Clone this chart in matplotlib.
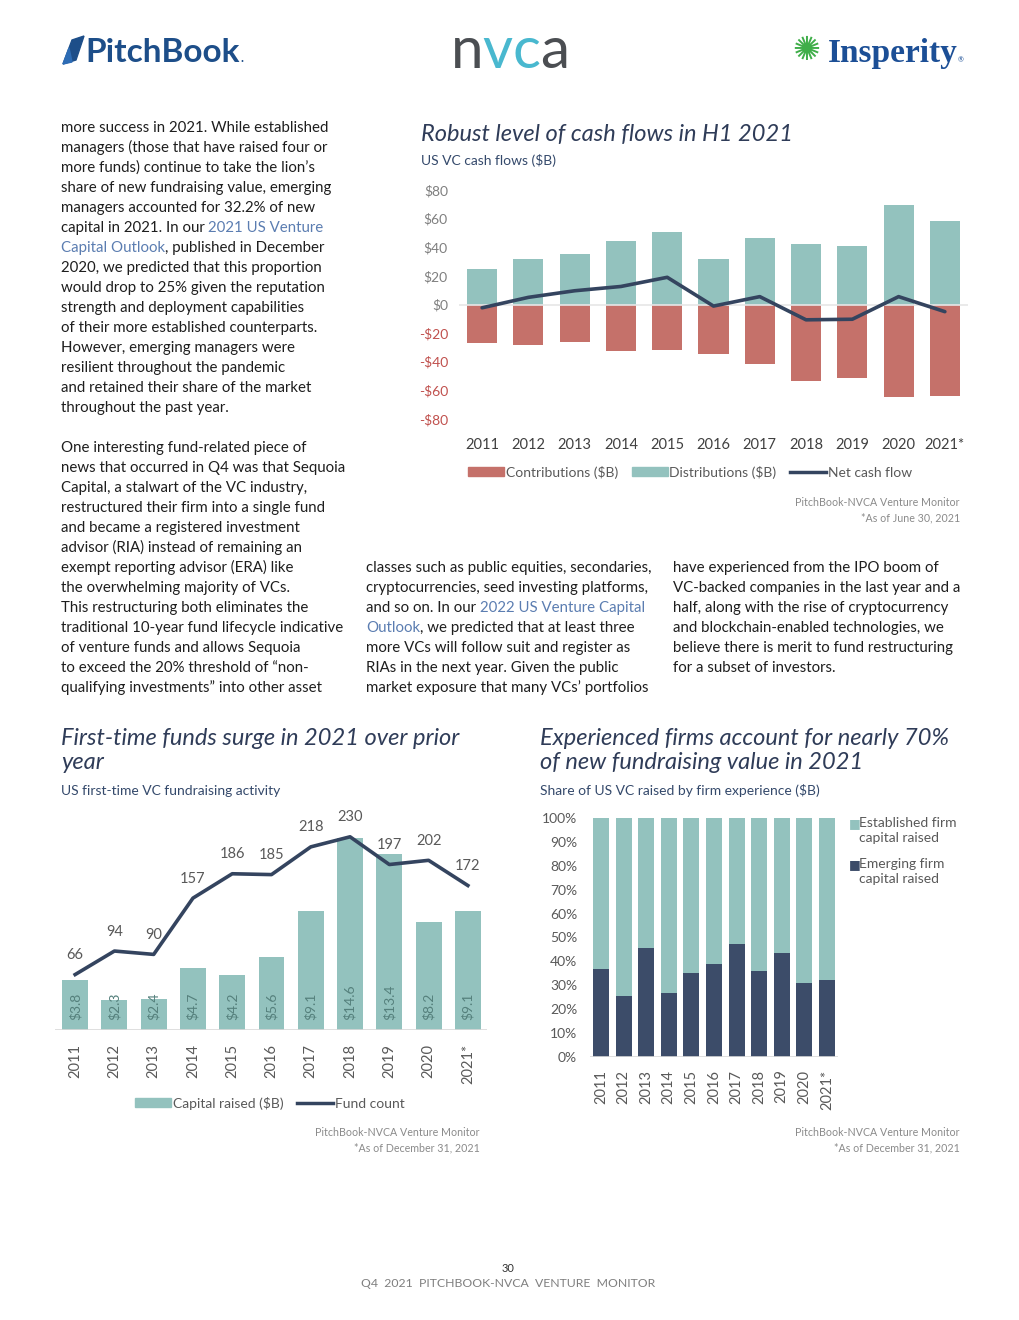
import matplotlib
matplotlib.use('Agg')
import matplotlib.pyplot as plt
from matplotlib.patches import Patch, Polygon
from matplotlib.lines import Line2D

plt.rcParams['font.family'] = ['Lato', 'DejaVu Sans']

# ---------------- data ----------------
years = ['2011', '2012', '2013', '2014', '2015', '2016', '2017', '2018', '2019', '2020', '2021*']

cf_distributions = [24.5, 32.0, 35.4, 44.3, 50.5, 32.0, 46.4, 42.3, 40.9, 69.7, 58.0]
cf_contributions = [-26.7, -28.1, -26.1, -32.2, -31.5, -34.3, -41.8, -53.5, -51.4, -64.5, -63.8]
cf_net = [-2.3, 5.0, 9.6, 12.6, 19.0, -1.1, 5.5, -10.7, -10.3, 5.5, -5.0]
cf_yticks = [-80, -60, -40, -20, 0, 20, 40, 60, 80]

ft_capital = [3.8, 2.3, 2.4, 4.7, 4.2, 5.6, 9.1, 14.6, 13.4, 8.2, 9.1]
ft_count = [66, 94, 90, 157, 186, 185, 218, 230, 197, 202, 172]

exp_emerging = [36.8, 25.5, 45.6, 26.7, 35.1, 38.9, 47.3, 35.9, 43.5, 30.9, 32.2]
exp_established = [100 - e for e in exp_emerging]
exp_yticks = [0, 10, 20, 30, 40, 50, 60, 70, 80, 90, 100]

# ---------------- style ----------------
TEAL = '#93c2be'
RED = '#c5716a'
NAVY = '#34445f'
NAVY_BAR = '#3c4c69'
TITLE_C = '#2f3c58'
SUB_C = '#34496b'
GRAY = '#595959'
LIGHT = '#d9d9d9'
BODY = '#1e1e1e'
LINK = '#5b7db1'
SRC = '#8a8a8a'
SRC_FS = 7.7
TITLE_FS = 17

W, H = 1020, 1320
def fx(x): return x / W
def fy(y): return 1 - y / H

fig = plt.figure(figsize=(10.2, 13.2), dpi=100)
bg = fig.add_axes([0, 0, 1, 1], zorder=-5)
bg.set_xlim(0, 1); bg.set_ylim(0, 1); bg.axis('off')


def chain(x, y, segments, **common):
    """Place text segments one after another on the same baseline."""
    prev = None
    for txt, col, gap, extra in segments:
        kw = dict(common)
        kw.update(extra)
        if prev is None:
            prev = bg.annotate(txt, xy=(fx(x), fy(y)), xycoords='figure fraction',
                               color=col, ha='left', va='baseline', **kw)
        else:
            prev = bg.annotate(txt, xy=(1, fy(y)), xycoords=(prev, 'figure fraction'),
                               xytext=(gap, 0), textcoords='offset points',
                               color=col, ha='left', va='baseline', **kw)
    return prev

# ---------------- logos ----------------
bg.add_patch(Polygon([(fx(63), fy(64)), (fx(72), fy(40)), (fx(84), fy(36)), (fx(76), fy(60))],
                     closed=True, color='#1d4e89', transform=fig.transFigure))
bg.add_patch(Polygon([(fx(63), fy(64)), (fx(69), fy(48)), (fx(72), fy(62))],
                     closed=True, color='#2d6cb5', transform=fig.transFigure))
chain(85, 62, [('PitchBook', '#1d4e89', 0, dict(fontsize=24, fontweight='bold')),
               ('.', '#1d4e89', 0.5, dict(fontsize=9, fontweight='bold'))])

chain(451, 68, [('n', '#4b4e52', 0, {}), ('v', '#49b8cf', -1, {}),
                ('c', '#49b8cf', 0, {}), ('a', '#4b4e52', 0, {})], fontsize=42)

fig.text(fx(806), fy(50), '✺', fontsize=24, color='#3fae49', va='center', ha='center',
         family=['DejaVu Sans'])
chain(828, 62, [('Insperity', '#1c4f96', 0, dict(fontsize=24, fontweight='bold',
                                                   family=['Liberation Serif'])),
                ('®', '#1c4f96', 0, dict(fontsize=5))])

# ---------------- body text ----------------
BODY_FS = 10.8
SPACE_PT = 2.7

def body_line(x, y, segments):
    segs = []
    for txt, is_link in segments:
        col = LINK if is_link else BODY
        gap = 0
        if txt.startswith(' '):
            gap = SPACE_PT
            txt = txt.lstrip(' ')
        segs.append((txt, col, gap, {}))
    chain(x, y, segs, fontsize=BODY_FS)

left_col = [
    [("more success in 2021. While established", False)],
    [("managers (those that have raised four or", False)],
    [("more funds) continue to take the lion’s", False)],
    [("share of new fundraising value, emerging", False)],
    [("managers accounted for 32.2% of new", False)],
    [("capital in 2021. In our", False), (" 2021 US Venture", True)],
    [("Capital Outlook", True), (", published in December", False)],
    [("2020, we predicted that this proportion", False)],
    [("would drop to 25% given the reputation", False)],
    [("strength and deployment capabilities", False)],
    [("of their more established counterparts.", False)],
    [("However, emerging managers were", False)],
    [("resilient throughout the pandemic", False)],
    [("and retained their share of the market", False)],
    [("throughout the past year.", False)],
    [],
    [("One interesting fund-related piece of", False)],
    [("news that occurred in Q4 was that Sequoia", False)],
    [("Capital, a stalwart of the VC industry,", False)],
    [("restructured their firm into a single fund", False)],
    [("and became a registered investment", False)],
    [("advisor (RIA) instead of remaining an", False)],
    [("exempt reporting advisor (ERA) like", False)],
    [("the overwhelming majority of VCs.", False)],
    [("This restructuring both eliminates the", False)],
    [("traditional 10-year fund lifecycle indicative", False)],
    [("of venture funds and allows Sequoia", False)],
    [("to exceed the 20% threshold of “non-", False)],
    [("qualifying investments” into other asset", False)],
]
mid_col = [
    [("classes such as public equities, secondaries,", False)],
    [("cryptocurrencies, seed investing platforms,", False)],
    [("and so on. In our", False), (" 2022 US Venture Capital", True)],
    [("Outlook", True), (", we predicted that at least three", False)],
    [("more VCs will follow suit and register as", False)],
    [("RIAs in the next year. Given the public", False)],
    [("market exposure that many VCs’ portfolios", False)],
]
right_col = [
    [("have experienced from the IPO boom of", False)],
    [("VC-backed companies in the last year and a", False)],
    [("half, along with the rise of cryptocurrency", False)],
    [("and blockchain-enabled technologies, we", False)],
    [("believe there is merit to fund restructuring", False)],
    [("for a subset of investors.", False)],
]
for i, segs in enumerate(left_col):
    if segs:
        body_line(61, 132 + 20 * i, segs)
for i, segs in enumerate(mid_col):
    body_line(366, 572 + 20 * i, segs)
for i, segs in enumerate(right_col):
    body_line(673, 572 + 20 * i, segs)

# ---------------- chart 1: cash flows ----------------
fig.text(fx(421), fy(141), 'Robust level of cash flows in H1 2021', fontsize=TITLE_FS,
         style='italic', color=TITLE_C, va='baseline')
fig.text(fx(421), fy(165), 'US VC cash flows ($B)', fontsize=10, color=SUB_C, va='baseline')

ax1 = fig.add_axes([fx(459), fy(419), (968 - 459) / W, (419 - 190) / H])
xs = range(len(years))
ax1.bar(xs, cf_contributions, width=0.65, color=RED, zorder=2)
ax1.bar(xs, cf_distributions, width=0.65, color=TEAL, zorder=2)
ax1.axhline(0, color='#e6e6e6', lw=1.2, zorder=3)
ax1.plot(xs, cf_net, color=NAVY, lw=2.6, zorder=4, solid_capstyle='round')
ax1.set_xlim(-0.5, len(years) - 0.5)
ax1.set_ylim(-80, 80)
ax1.set_yticks(cf_yticks)
ax1.set_yticklabels([f'${v}' if v >= 0 else f'-${-v}' for v in cf_yticks])
for lab, v in zip(ax1.get_yticklabels(), cf_yticks):
    lab.set_color('#c0504d' if v < 0 else '#7f7f7f')
ax1.set_xticks(list(xs))
ax1.set_xticklabels(years)
ax1.tick_params(axis='x', length=0, pad=14, labelsize=10.5, labelcolor='#404040')
ax1.tick_params(axis='y', length=0, pad=8, labelsize=10)
for s in ax1.spines.values():
    s.set_visible(False)
ax1.patch.set_alpha(0)

fig.legend([Patch(color=RED), Patch(color=TEAL), Line2D([], [], color=NAVY, lw=2.5)],
           ['Contributions ($B)', 'Distributions ($B)', 'Net cash flow'],
           loc='center', bbox_to_anchor=(fx(690), fy(472)), ncol=3, frameon=False,
           fontsize=10, handlelength=2.6, handleheight=0.55, handletextpad=0.1,
           columnspacing=1.0, labelcolor=GRAY)
fig.text(fx(960), fy(506), 'PitchBook-NVCA Venture Monitor', fontsize=SRC_FS, color=SRC,
         ha='right', va='baseline')
fig.text(fx(960), fy(521), '*As of June 30, 2021', fontsize=SRC_FS, color=SRC,
         ha='right', va='baseline')

# ---------------- chart 2: first-time funds ----------------
fig.text(fx(61), fy(745), 'First-time funds surge in 2021 over prior', fontsize=TITLE_FS,
         style='italic', color=TITLE_C, va='baseline')
fig.text(fx(61), fy(769), 'year', fontsize=TITLE_FS, style='italic', color=TITLE_C,
         va='baseline')
fig.text(fx(61), fy(795), 'US first-time VC fundraising activity', fontsize=10, color=SUB_C,
         va='baseline')

ax2 = fig.add_axes([fx(55.5), fy(1030), (487.5 - 55.5) / W, (1030 - 820) / H])
ax2.bar(xs, ft_capital, width=0.66, color=TEAL, zorder=2)
ax2.axhline(0, color=LIGHT, lw=1.2, zorder=3)
for i, v in enumerate(ft_capital):
    ax2.annotate(f'${v:.1f}', xy=(i, 0), xytext=(0, 7), textcoords='offset points',
                 rotation=90, ha='center', va='bottom', fontsize=10, color='#55807c')
ax2.set_xlim(-0.5, len(years) - 0.5)
ax2.set_ylim(0, 16)
ax2.set_yticks([])
ax2.set_xticks(list(xs))
ax2.set_xticklabels(years, rotation=90)
ax2.tick_params(axis='x', length=0, pad=10, labelsize=10.5, labelcolor=GRAY)
for s in ax2.spines.values():
    s.set_visible(False)
ax2.patch.set_alpha(0)

ax2b = ax2.twinx()
ax2b.plot(xs, ft_count, color=NAVY, lw=2.6, zorder=4)
for i, v in enumerate(ft_count):
    ax2b.annotate(str(v), xy=(i, v), xytext=(0, 9), textcoords='offset points',
                  ha='center', va='bottom', fontsize=10.5, color=GRAY)
ax2b.set_ylim(0, 250)
ax2b.set_yticks([])
for s in ax2b.spines.values():
    s.set_visible(False)

fig.legend([Patch(color=TEAL), Line2D([], [], color=NAVY, lw=2.5)],
           ['Capital raised ($B)', 'Fund count'],
           loc='center', bbox_to_anchor=(fx(270), fy(1103)), ncol=2, frameon=False,
           fontsize=10, handlelength=2.6, handleheight=0.55, handletextpad=0.1,
           columnspacing=1.0, labelcolor=GRAY)
fig.text(fx(480), fy(1136), 'PitchBook-NVCA Venture Monitor', fontsize=SRC_FS, color=SRC,
         ha='right', va='baseline')
fig.text(fx(480), fy(1151), '*As of December 31, 2021', fontsize=SRC_FS, color=SRC,
         ha='right', va='baseline')

# ---------------- chart 3: experienced firms ----------------
fig.text(fx(540), fy(745), 'Experienced firms account for nearly 70%', fontsize=TITLE_FS,
         style='italic', color=TITLE_C, va='baseline')
fig.text(fx(540), fy(769), 'of new fundraising value in 2021', fontsize=TITLE_FS,
         style='italic', color=TITLE_C, va='baseline')
fig.text(fx(540), fy(795), 'Share of US VC raised by firm experience ($B)', fontsize=10,
         color=SUB_C, va='baseline')

ax3 = fig.add_axes([fx(589.7), fy(1057), (838.3 - 589.7) / W, (1057 - 818) / H])
ax3.bar(xs, exp_emerging, width=0.7, color=NAVY_BAR, zorder=2)
ax3.bar(xs, exp_established, bottom=exp_emerging, width=0.7, color=TEAL, zorder=2)
ax3.axhline(0, color=LIGHT, lw=1.2, zorder=3)
ax3.set_xlim(-0.5, len(years) - 0.5)
ax3.set_ylim(0, 100)
ax3.set_yticks(exp_yticks)
ax3.set_yticklabels([f'{v}%' for v in exp_yticks])
ax3.set_xticks(list(xs))
ax3.set_xticklabels(years, rotation=90)
ax3.tick_params(axis='x', length=0, pad=9, labelsize=10.5, labelcolor=GRAY)
ax3.tick_params(axis='y', length=0, pad=9, labelsize=10, labelcolor=GRAY)
for s in ax3.spines.values():
    s.set_visible(False)
ax3.patch.set_alpha(0)

fig.text(fx(849), fy(827), '■', fontsize=9, color=TEAL, va='baseline', family=['DejaVu Sans'])
fig.text(fx(859), fy(827), 'Established firm', fontsize=10, color=GRAY, va='baseline')
fig.text(fx(859), fy(842), 'capital raised', fontsize=10, color=GRAY, va='baseline')
fig.text(fx(849), fy(868), '■', fontsize=9, color=NAVY_BAR, va='baseline', family=['DejaVu Sans'])
fig.text(fx(859), fy(868), 'Emerging firm', fontsize=10, color=GRAY, va='baseline')
fig.text(fx(859), fy(883), 'capital raised', fontsize=10, color=GRAY, va='baseline')

fig.text(fx(960), fy(1136), 'PitchBook-NVCA Venture Monitor', fontsize=SRC_FS, color=SRC,
         ha='right', va='baseline')
fig.text(fx(960), fy(1151), '*As of December 31, 2021', fontsize=SRC_FS, color=SRC,
         ha='right', va='baseline')

# ---------------- footer ----------------
fig.text(fx(508), fy(1272), '30', fontsize=8, color='#333333', ha='center', va='baseline')
fig.text(fx(508), fy(1287), 'Q4  2021  PITCHBOOK-NVCA  VENTURE  MONITOR', fontsize=8.8,
         color='#7f7f7f', ha='center', va='baseline')

fig.savefig('out.png', dpi=100)
